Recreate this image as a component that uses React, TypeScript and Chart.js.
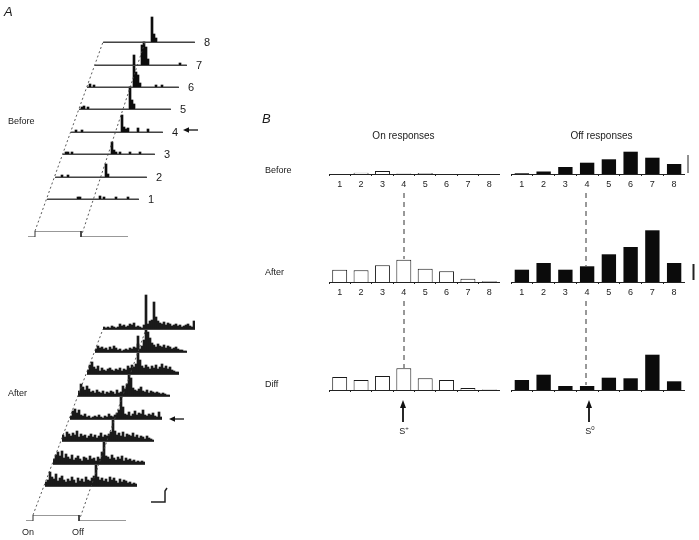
import React, { useEffect, useRef } from "react";
import { Chart, registerables } from "chart.js";
Chart.register(...registerables);

const FONT = "'Liberation Sans', Arial, Helvetica, sans-serif";

// ---------- Panel B data (bar heights, arbitrary units) ----------
const binLabels = ["1", "2", "3", "4", "5", "6", "7", "8"];
const onBefore = [0, 1.3, 3, 0.6, 1, 0, 0, 0];
const offBefore = [0.7, 2.5, 7, 11.3, 14.7, 22.3, 16.3, 10];
const onAfter = [12.3, 11.7, 16.7, 22.3, 13.3, 10.7, 3.3, 0.7];
const offAfter = [12.3, 19, 12.3, 15.7, 27.7, 35, 51.7, 19];
const onDiff = [13, 10, 14, 21.7, 11.7, 10, 2, 0.5];
const offDiff = [10, 15.3, 4, 4, 12.3, 11.7, 35.3, 8.7];

// ---------- Panel A data: PSTH traces (46 bins each) ----------
const before1 = [0,0,0,0,0,0,0,0,0,0, 0,0,0,0,0,2,2,0,0,0, 0,0,0,0,0,0,3,0,2,0, 0,0,0,0,2,0,0,0,0,0, 2,0,0,0,0,0];
const before2 = [0,0,0,2,0,0,2,0,0,0, 0,0,0,0,0,0,0,0,0,0, 0,0,0,0,0,13,3,0,0,0, 0,0,0,0,0,0,0,0,0,0, 0,0,0,0,0,0];
const before3 = [0,2,2,0,2,0,0,0,0,0, 0,0,0,0,0,0,0,0,0,0, 0,0,0,0,12,4,2,0,2,0, 0,0,0,2,0,0,0,0,2,0, 0,0,0,0,0,0];
const before4 = [0,0,2,0,0,2,0,0,0,0, 0,0,0,0,0,0,0,0,0,0, 0,0,0,0,0,17,5,3,4,0, 0,0,0,4,0,0,0,0,3,0, 0,0,0,0,0,0];
const before5 = [0,2,3,0,2,0,0,0,0,0, 0,0,0,0,0,0,0,0,0,0, 0,0,0,0,0,22,9,5,0,0, 0,0,0,0,0,0,0,0,0,0, 0,0,0,0,0,0];
const before6 = [0,3,0,2,0,0,0,0,0,0, 0,0,0,0,0,0,0,0,0,0, 0,0,0,32,15,12,4,0,0,0, 0,0,0,0,2,0,0,2,0,0, 0,0,0,0,0,0];
const before7 = [0,0,0,0,0,0,0,0,0,0, 0,0,0,0,0,0,0,0,0,0, 0,0,0,20,23,18,6,0,0,0, 0,0,0,0,0,0,0,0,0,0, 0,0,2,0,0,0];
const before8 = [0,0,0,0,0,0,0,0,0,0, 0,0,0,0,0,0,0,0,0,0, 0,0,0,0,25,8,4,0,0,0, 0,0,0,0,0,0,0,0,0,0, 0,0,0,0,0,0];

const after1 = [4,6,14,9,7,12,5,8,10,6, 4,7,5,9,6,3,8,5,7,4, 9,6,5,8,10,21,9,6,8,5, 7,4,9,6,8,5,3,7,4,6, 5,3,4,2,3,2];
const after2 = [5,9,12,8,13,6,10,7,5,9, 4,6,8,5,3,7,6,4,8,5, 6,3,7,5,12,23,8,7,5,9, 6,4,7,5,8,3,6,4,5,3, 4,2,3,2,3,2];
const after3 = [6,4,9,7,5,8,6,10,4,7, 5,6,3,5,7,4,6,3,5,8, 4,6,5,7,9,24,10,6,8,5, 9,4,7,6,5,8,4,6,3,5, 4,2,5,3,2,1];
const after4 = [3,8,10,6,9,4,3,5,2,3, 1,2,3,2,4,2,1,3,2,5, 3,2,4,6,9,25,12,5,4,7, 3,5,8,4,6,5,9,4,3,5, 4,6,3,2,7,2];
const after5 = [5,12,9,6,10,7,4,5,3,6, 4,3,5,2,4,3,5,4,2,6, 3,4,10,7,12,27,18,8,6,5, 7,9,5,4,6,3,5,4,3,4, 3,2,3,2,1,1];
const after6 = [4,9,12,7,5,8,3,6,4,3, 5,6,4,3,5,4,6,3,5,4, 8,6,9,7,10,38,14,8,6,9, 7,5,8,6,9,5,7,10,6,8, 5,7,4,3,2,2];
const after7 = [3,6,4,5,3,4,2,5,3,6, 4,2,3,1,2,3,2,4,3,5, 4,8,3,6,12,57,20,14,9,7, 5,8,6,5,7,4,6,5,3,4, 5,3,2,2,1,1];
const after8 = [2,1,2,1,3,2,1,2,5,3, 4,2,3,5,4,6,2,3,2,1, 4,3,5,8,9,27,12,8,6,5, 7,4,6,5,3,4,5,3,4,2, 3,4,5,3,2,8];

const traceLabels = ["1", "2", "3", "4", "5", "6", "7", "8"];
const beforeTraces = [before1, before2, before3, before4, before5, before6, before7, before8];
const afterTraces = [after1, after2, after3, after4, after5, after6, after7, after8];

// stimulus (ms) and level
const stimTimes = [-70, 0, 0, 460, 460, 930];
const stimLevels = [0, 0, 1, 1, 0, 0];

// ---------- layout ----------
const TRACE_W = 92;
const TRACE_H = 60;

const baseOpts = {
  responsive: false,
  animation: false as const,
  devicePixelRatio: 1,
  events: [] as any[],
  plugins: { legend: { display: false }, tooltip: { enabled: false } },
  layout: { padding: 0 },
};

function TraceHist({ data, left, base, color }: any) {
  const ref = useRef<HTMLCanvasElement>(null);
  useEffect(() => {
    const chart = new Chart(ref.current as HTMLCanvasElement, {
      type: "bar",
      data: {
        labels: data.map((_: number, i: number) => String(i)),
        datasets: [{ data, backgroundColor: color, borderWidth: 0, barPercentage: 1, categoryPercentage: 1 }],
      },
      options: {
        ...baseOpts,
        scales: {
          x: {
            display: true,
            grid: { display: true, drawOnChartArea: false, drawTicks: false },
            ticks: { display: false },
            border: { display: true, color: "#444", width: 1 },
            afterFit: (s: any) => { s.height = 2; },
          },
          y: { display: false, min: 0, max: TRACE_H },
        },
      } as any,
    });
    return () => chart.destroy();
  }, []);
  return (
    <canvas ref={ref} width={TRACE_W} height={TRACE_H + 2}
      style={{ position: "absolute", left, top: base - TRACE_H }} />
  );
}

function StimTrace({ onset, high }: any) {
  const ref = useRef<HTMLCanvasElement>(null);
  useEffect(() => {
    const chart = new Chart(ref.current as HTMLCanvasElement, {
      type: "line",
      data: {
        datasets: [{
          data: stimTimes.map((t, i) => ({ x: t, y: stimLevels[i] })),
          borderColor: "#333", borderWidth: 1, pointRadius: 0, tension: 0,
        }],
      },
      options: {
        ...baseOpts,
        layout: { padding: { top: 1, bottom: 1, left: 0, right: 0 } },
        scales: {
          x: { type: "linear", display: false, min: -70, max: 930 },
          y: { display: false, min: 0, max: 1 },
        },
      } as any,
    });
    return () => chart.destroy();
  }, []);
  return (
    <canvas ref={ref} width={100} height={8}
      style={{ position: "absolute", left: onset - 7, top: high - 1 }} />
  );
}

function BinBars({ data, filled, left, top, width, height, showLabels }: any) {
  const ref = useRef<HTMLCanvasElement>(null);
  const axisH = showLabels ? 20 : 4;
  useEffect(() => {
    const chart = new Chart(ref.current as HTMLCanvasElement, {
      type: "bar",
      data: {
        labels: binLabels,
        datasets: [{
          data,
          backgroundColor: filled ? "#0b0b0b" : "#ffffff",
          borderColor: "#1a1a1a",
          borderWidth: filled ? 0 : 1,
          barPercentage: filled ? 0.66 : 0.7,
          categoryPercentage: 1,
        }],
      },
      options: {
        ...baseOpts,
        scales: {
          x: {
            offset: true,
            grid: { display: true, offset: true, drawOnChartArea: false, drawTicks: true, tickLength: 2, color: "#222", lineWidth: 1 },
            border: { display: true, color: "#222", width: 1 },
            ticks: { display: showLabels, font: { size: 9, family: FONT }, color: "#222", padding: 3, maxRotation: 0, autoSkip: false },
            afterFit: (s: any) => { s.height = axisH; },
          },
          y: { display: false, min: 0, max: height },
        },
      } as any,
    });
    return () => chart.destroy();
  }, []);
  return (
    <canvas ref={ref} width={width} height={height + axisH}
      style={{ position: "absolute", left, top }} />
  );
}

function T({ x, y, children, size = 10, align = "center", style = {} }: any) {
  const tx = align === "center" ? "-50%" : align === "right" ? "-100%" : "0";
  return (
    <div style={{
      position: "absolute", left: x, top: y, transform: `translate(${tx}, -50%)`,
      fontFamily: FONT, fontSize: size, lineHeight: 1, color: "#1a1a1a", whiteSpace: "nowrap", ...style,
    }}>{children}</div>
  );
}

const ON_L = 329, ON_W = 171, OFF_L = 511, OFF_W = 174;

export default function App() {
  return (
    <div style={{ position: "absolute", left: 0, top: 0, width: 699, height: 540, background: "#fff", overflow: "hidden" }}>
      {/* Panel A - Before */}
      {beforeTraces.map((d, i) => (
        <TraceHist key={"b" + i} data={d} left={47 + 8 * i} base={199 - 22.4 * i} color="#0d0d0d" />
      ))}
      {afterTraces.map((d, i) => (
        <TraceHist key={"a" + i} data={d} left={45 + 8.3 * i} base={486 - 22.4 * i} color="#1a1a1a" />
      ))}
      <StimTrace onset={34.5} high={231} />
      <StimTrace onset={33} high={515} />

      {/* Panel B */}
      <BinBars data={onBefore} filled={false} left={ON_L} top={140} width={ON_W} height={34} showLabels />
      <BinBars data={offBefore} filled left={OFF_L} top={140} width={OFF_W} height={34} showLabels />
      <BinBars data={onAfter} filled={false} left={ON_L} top={220} width={ON_W} height={62} showLabels />
      <BinBars data={offAfter} filled left={OFF_L} top={220} width={OFF_W} height={62} showLabels />
      <BinBars data={onDiff} filled={false} left={ON_L} top={346} width={ON_W} height={44} showLabels={false} />
      <BinBars data={offDiff} filled left={OFF_L} top={346} width={OFF_W} height={44} showLabels={false} />

      <svg width={699} height={540} style={{ position: "absolute", left: 0, top: 0, pointerEvents: "none" }}>
        <g stroke="#444" strokeWidth={0.9} strokeDasharray="2 2.5" fill="none">
          <line x1={35} y1={231} x2={103} y2={42} />
          <line x1={81} y1={237} x2={145} y2={42} />
          <line x1={33} y1={515} x2={103} y2={329} />
          <line x1={79} y1={521} x2={146} y2={329} />
        </g>
        <g stroke="#333" strokeWidth={1} strokeDasharray="5 4" fill="none">
          <line x1={404} y1={193} x2={404} y2={259} />
          <line x1={404} y1={301} x2={404} y2={368} />
          <line x1={586} y1={193} x2={586} y2={266} />
          <line x1={586} y1={301} x2={586} y2={385} />
        </g>
        {/* arrows */}
        <g stroke="#111" strokeWidth={1.3} fill="#111">
          <line x1={187} y1={130} x2={198} y2={130} />
          <polygon points="183,130 189,127.3 189,132.7" stroke="none" />
          <line x1={173} y1={419} x2={184} y2={419} />
          <polygon points="169,419 175,416.3 175,421.7" stroke="none" />
          <line x1={403} y1={406} x2={403} y2={422} strokeWidth={1.8} />
          <polygon points="403,400 400,408 406,408" stroke="none" />
          <line x1={589} y1={406} x2={589} y2={422} strokeWidth={1.8} />
          <polygon points="589,400 586,408 592,408" stroke="none" />
        </g>
        {/* scale bars */}
        <g stroke="#222" fill="none">
          <line x1={688} y1={155} x2={688} y2={173} strokeWidth={1} />
          <line x1={693.5} y1={264} x2={693.5} y2={280} strokeWidth={2} />
          <path d="M151,502 L165,502 L165,491 L167,488" strokeWidth={1.5} />
        </g>
      </svg>

      {/* Panel A text */}
      <T x={4} y={11} size={13} align="left" style={{ fontStyle: "italic" }}>A</T>
      <T x={8} y={121} size={9} align="left">Before</T>
      <T x={8} y={393} size={9} align="left">After</T>
      {traceLabels.map((l, i) => (
        <T key={"n" + i} x={47 + 8 * i + TRACE_W + 12} y={199 - 22.4 * i} size={11}>{l}</T>
      ))}
      <T x={28} y={532} size={9}>On</T>
      <T x={78} y={532} size={9}>Off</T>

      {/* Panel B text */}
      <T x={262} y={118} size={13} align="left" style={{ fontStyle: "italic" }}>B</T>
      <T x={403.5} y={136} size={10}>On responses</T>
      <T x={601.5} y={136} size={10}>Off responses</T>
      <T x={265} y={170} size={9} align="left">Before</T>
      <T x={265} y={272} size={9} align="left">After</T>
      <T x={265} y={384} size={9} align="left">Diff</T>
      <T x={404} y={430} size={9}>S<sup style={{ fontSize: 6 }}>+</sup></T>
      <T x={590} y={430} size={9}>S<sup style={{ fontSize: 6 }}>0</sup></T>
    </div>
  );
}
